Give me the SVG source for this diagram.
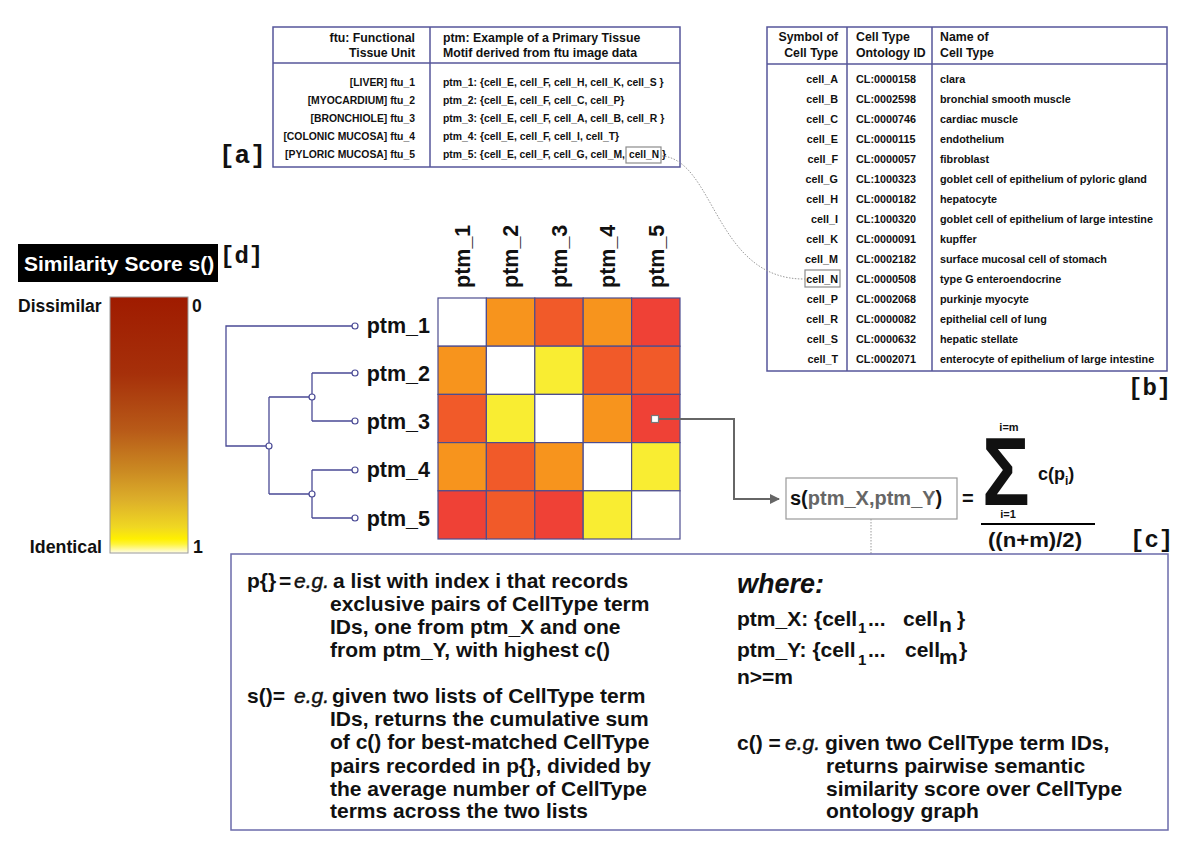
<svg xmlns="http://www.w3.org/2000/svg" width="1200" height="860" viewBox="0 0 1200 860">
<defs>
<style>
text{font-family:"Liberation Sans",Arial,sans-serif;font-weight:bold;fill:#111}
.hd{font-size:12.3px}
.ta{font-size:10.4px}
.tb{font-size:10.8px}
.lbl{font-family:"Liberation Mono","Courier New",monospace;font-size:24px;font-weight:bold}
.big{font-size:21.5px}
.body{font-size:21px}
.eg{font-style:italic;font-weight:normal;stroke:#111;stroke-width:0.45px}
.tbl{fill:#fff;stroke:#56569a;stroke-width:1.5}
.tl{stroke:#56569a;stroke-width:1.5}
.dn{fill:none;stroke:#4a4a95;stroke-width:1.3}
.nd{fill:#fff;stroke:#4a4a95;stroke-width:1.2}
.cell{stroke:#4d4d8f;stroke-width:1.2}
.O{fill:#f7941d}.R{fill:#f15a29}.D{fill:#ef4136}.Y{fill:#f9ed32}.W{fill:#fff}
.gbox{fill:none;stroke:#8c8c8c;stroke-width:1.2}
.gr{fill:#666}
</style>
<linearGradient id="grad" x1="0" y1="0" x2="0" y2="1">
<stop offset="0" stop-color="#9f1b00"/>
<stop offset="0.3" stop-color="#a6300a"/>
<stop offset="0.52" stop-color="#b85a18"/>
<stop offset="0.68" stop-color="#cb8a22"/>
<stop offset="0.79" stop-color="#dcae2a"/>
<stop offset="0.9" stop-color="#f0d822"/>
<stop offset="0.945" stop-color="#fff000"/>
<stop offset="0.965" stop-color="#fff43a"/>
<stop offset="1" stop-color="#fffde8"/>
</linearGradient>
<marker id="arr" viewBox="0 0 10 10" refX="9" refY="5" markerWidth="5" markerHeight="6" markerUnits="strokeWidth" orient="auto">
<path d="M0,0 L10,5 L0,10 z" fill="#666"/>
</marker>
</defs>
<rect width="1200" height="860" fill="#fff"/>

<g id="table-a">
<rect class="tbl" x="273" y="27" width="407" height="140"/>
<line class="tl" x1="273" y1="63" x2="680" y2="63"/>
<line class="tl" x1="430" y1="27" x2="430" y2="167"/>
<text class="hd" x="415" y="42" text-anchor="end">ftu: Functional</text>
<text class="hd" x="415" y="57" text-anchor="end">Tissue Unit</text>
<text class="hd" x="443" y="42">ptm: Example of a Primary Tissue</text>
<text class="hd" x="443" y="57">Motif derived from ftu image data</text>
<text class="ta" x="415" y="86" text-anchor="end">[LIVER] ftu_1</text>
<text class="ta" x="415" y="104" text-anchor="end">[MYOCARDIUM] ftu_2</text>
<text class="ta" x="415" y="122" text-anchor="end">[BRONCHIOLE] ftu_3</text>
<text class="ta" x="415" y="140" text-anchor="end">[COLONIC MUCOSA] ftu_4</text>
<text class="ta" x="415" y="158" text-anchor="end">[PYLORIC MUCOSA] ftu_5</text>
<text class="ta" x="443" y="86">ptm_1: {cell_E, cell_F, cell_H, cell_K, cell_S }</text>
<text class="ta" x="443" y="104">ptm_2: {cell_E, cell_F, cell_C, cell_P}</text>
<text class="ta" x="443" y="122">ptm_3: {cell_E, cell_F, cell_A, cell_B, cell_R }</text>
<text class="ta" x="443" y="140">ptm_4: {cell_E, cell_F, cell_I, cell_T}</text>
<text class="ta" x="443" y="158" textLength="182" lengthAdjust="spacingAndGlyphs">ptm_5: {cell_E, cell_F, cell_G, cell_M,</text>
<text class="ta" x="629" y="158" textLength="30" lengthAdjust="spacingAndGlyphs">cell_N</text>
<text class="ta" x="662" y="158">}</text>
<rect class="gbox" x="626" y="147" width="35" height="16"/>
<text class="lbl" x="219" y="163" style="font-size:26px">[a]</text>
</g>

<g id="table-b">
<rect class="tbl" x="767" y="27" width="400" height="344"/>
<line class="tl" x1="767" y1="64" x2="1167" y2="64"/>
<line class="tl" x1="847" y1="27" x2="847" y2="371"/>
<line class="tl" x1="932" y1="27" x2="932" y2="371"/>
<text class="hd" x="838" y="41" text-anchor="end">Symbol of</text>
<text class="hd" x="838" y="57" text-anchor="end">Cell Type</text>
<text class="hd" x="856" y="41">Cell Type</text>
<text class="hd" x="856" y="57">Ontology ID</text>
<text class="hd" x="940" y="41">Name of</text>
<text class="hd" x="940" y="57">Cell Type</text>
<text class="tb" x="838" y="83" text-anchor="end">cell_A</text><text class="tb" x="856" y="83">CL:0000158</text><text class="tb" x="940" y="83">clara</text>
<text class="tb" x="838" y="103" text-anchor="end">cell_B</text><text class="tb" x="856" y="103">CL:0002598</text><text class="tb" x="940" y="103">bronchial smooth muscle</text>
<text class="tb" x="838" y="123" text-anchor="end">cell_C</text><text class="tb" x="856" y="123">CL:0000746</text><text class="tb" x="940" y="123">cardiac muscle</text>
<text class="tb" x="838" y="143" text-anchor="end">cell_E</text><text class="tb" x="856" y="143">CL:0000115</text><text class="tb" x="940" y="143">endothelium</text>
<text class="tb" x="838" y="163" text-anchor="end">cell_F</text><text class="tb" x="856" y="163">CL:0000057</text><text class="tb" x="940" y="163">fibroblast</text>
<text class="tb" x="838" y="183" text-anchor="end">cell_G</text><text class="tb" x="856" y="183">CL:1000323</text><text class="tb" x="940" y="183">goblet cell of epithelium of pyloric gland</text>
<text class="tb" x="838" y="203" text-anchor="end">cell_H</text><text class="tb" x="856" y="203">CL:0000182</text><text class="tb" x="940" y="203">hepatocyte</text>
<text class="tb" x="838" y="223" text-anchor="end">cell_I</text><text class="tb" x="856" y="223">CL:1000320</text><text class="tb" x="940" y="223">goblet cell of epithelium of large intestine</text>
<text class="tb" x="838" y="243" text-anchor="end">cell_K</text><text class="tb" x="856" y="243">CL:0000091</text><text class="tb" x="940" y="243">kupffer</text>
<text class="tb" x="838" y="263" text-anchor="end">cell_M</text><text class="tb" x="856" y="263">CL:0002182</text><text class="tb" x="940" y="263">surface mucosal cell of stomach</text>
<text class="tb" x="838" y="283" text-anchor="end">cell_N</text><text class="tb" x="856" y="283">CL:0000508</text><text class="tb" x="940" y="283">type G enteroendocrine</text>
<text class="tb" x="838" y="303" text-anchor="end">cell_P</text><text class="tb" x="856" y="303">CL:0002068</text><text class="tb" x="940" y="303">purkinje myocyte</text>
<text class="tb" x="838" y="323" text-anchor="end">cell_R</text><text class="tb" x="856" y="323">CL:0000082</text><text class="tb" x="940" y="323">epithelial cell of lung</text>
<text class="tb" x="838" y="343" text-anchor="end">cell_S</text><text class="tb" x="856" y="343">CL:0000632</text><text class="tb" x="940" y="343">hepatic stellate</text>
<text class="tb" x="838" y="363" text-anchor="end">cell_T</text><text class="tb" x="856" y="363">CL:0002071</text><text class="tb" x="940" y="363">enterocyte of epithelium of large intestine</text>
<rect class="gbox" x="805" y="270" width="35" height="17"/>
<text class="lbl" x="1128" y="395">[b]</text>
</g>

<g id="legend">
<rect x="18" y="244" width="200" height="38" fill="#000"/>
<text x="24" y="271" style="font-size:21px;fill:#fff">Similarity Score s()</text>
<text class="lbl" x="220" y="263">[d]</text>
<rect x="110" y="297" width="78" height="256" fill="url(#grad)" stroke="#9a9a9a" stroke-width="1"/>
<text x="18" y="312" style="font-size:17.5px">Dissimilar</text>
<text x="192" y="312" style="font-size:17.5px">0</text>
<text x="102" y="553" text-anchor="end" style="font-size:17.8px">Identical</text>
<text x="193" y="553" style="font-size:17.8px">1</text>
</g>

<g id="dendrogram">
<path class="dn" d="M355,326 H226 V446 H269 M269,397 V494 M269,397 H312 M312,373 V421 M312,373 H355 M312,421 H355 M269,494 H312 M312,470 V518 M312,470 H355 M312,518 H355"/>
<circle class="nd" cx="269" cy="446" r="3"/>
<circle class="nd" cx="312" cy="397" r="3"/>
<circle class="nd" cx="312" cy="494" r="3"/>
<circle class="nd" cx="355" cy="326" r="3"/>
<circle class="nd" cx="355" cy="373" r="3"/>
<circle class="nd" cx="355" cy="421" r="3"/>
<circle class="nd" cx="355" cy="470" r="3"/>
<circle class="nd" cx="355" cy="518" r="3"/>
</g>

<g id="heatmap">
<text class="big" x="430" y="333" text-anchor="end">ptm_1</text>
<text class="big" x="430" y="381" text-anchor="end">ptm_2</text>
<text class="big" x="430" y="429" text-anchor="end">ptm_3</text>
<text class="big" x="430" y="477" text-anchor="end">ptm_4</text>
<text class="big" x="430" y="526" text-anchor="end">ptm_5</text>
<text class="big" transform="translate(470,288) rotate(-90)">ptm_1</text>
<text class="big" transform="translate(518.4,288) rotate(-90)">ptm_2</text>
<text class="big" transform="translate(566.8,288) rotate(-90)">ptm_3</text>
<text class="big" transform="translate(615.2,288) rotate(-90)">ptm_4</text>
<text class="big" transform="translate(663.6,288) rotate(-90)">ptm_5</text>
<rect class="cell W" x="438" y="298" width="48.4" height="48.2"/>
<rect class="cell O" x="486.4" y="298" width="48.4" height="48.2"/>
<rect class="cell R" x="534.8" y="298" width="48.4" height="48.2"/>
<rect class="cell O" x="583.2" y="298" width="48.4" height="48.2"/>
<rect class="cell D" x="631.6" y="298" width="48.4" height="48.2"/>
<rect class="cell O" x="438" y="346.2" width="48.4" height="48.2"/>
<rect class="cell W" x="486.4" y="346.2" width="48.4" height="48.2"/>
<rect class="cell Y" x="534.8" y="346.2" width="48.4" height="48.2"/>
<rect class="cell R" x="583.2" y="346.2" width="48.4" height="48.2"/>
<rect class="cell R" x="631.6" y="346.2" width="48.4" height="48.2"/>
<rect class="cell R" x="438" y="394.4" width="48.4" height="48.2"/>
<rect class="cell Y" x="486.4" y="394.4" width="48.4" height="48.2"/>
<rect class="cell W" x="534.8" y="394.4" width="48.4" height="48.2"/>
<rect class="cell O" x="583.2" y="394.4" width="48.4" height="48.2"/>
<rect class="cell D" x="631.6" y="394.4" width="48.4" height="48.2"/>
<rect class="cell O" x="438" y="442.6" width="48.4" height="48.2"/>
<rect class="cell R" x="486.4" y="442.6" width="48.4" height="48.2"/>
<rect class="cell O" x="534.8" y="442.6" width="48.4" height="48.2"/>
<rect class="cell W" x="583.2" y="442.6" width="48.4" height="48.2"/>
<rect class="cell Y" x="631.6" y="442.6" width="48.4" height="48.2"/>
<rect class="cell D" x="438" y="490.8" width="48.4" height="48.2"/>
<rect class="cell R" x="486.4" y="490.8" width="48.4" height="48.2"/>
<rect class="cell D" x="534.8" y="490.8" width="48.4" height="48.2"/>
<rect class="cell Y" x="583.2" y="490.8" width="48.4" height="48.2"/>
<rect class="cell W" x="631.6" y="490.8" width="48.4" height="48.2"/>
<rect x="651.5" y="415.5" width="7" height="7" fill="#fff" stroke="#777" stroke-width="1.2"/>
</g>

<g id="connectors">
<path d="M662,156 C715,160 715,280 805,279" fill="none" stroke="#9a9a9a" stroke-width="1" stroke-dasharray="1.5,1.5"/>
<path d="M659,419 H734 V499 H779" fill="none" stroke="#666" stroke-width="2" marker-end="url(#arr)"/>
<line x1="871" y1="519" x2="871" y2="554" stroke="#9a9a9a" stroke-width="1" stroke-dasharray="1.5,1.5"/>
</g>

<g id="formula">
<rect x="786" y="478" width="171" height="41" fill="#fff" stroke="#999" stroke-width="1.2"/>
<text x="790" y="505" style="font-size:20px">s(<tspan class="gr">ptm_X,ptm_Y</tspan>)</text>
<text x="962" y="505" style="font-size:20px">=</text>
<text transform="translate(982,505) scale(0.82,1)" style="font-size:97px">Σ</text>
<text x="1009" y="431" text-anchor="middle" style="font-size:11px">i=m</text>
<text x="1008" y="518" text-anchor="middle" style="font-size:11px">i=1</text>
<text x="1038" y="480" style="font-size:18px">c(p<tspan dy="5" style="font-size:12px">i</tspan><tspan dy="-5">)</tspan></text>
<rect x="981" y="523" width="114" height="2" fill="#000"/>
<text x="988" y="547" style="font-size:20px" textLength="94" lengthAdjust="spacingAndGlyphs">((n+m)/2)</text>
<text class="lbl" x="1130" y="547">[c]</text>
</g>

<g id="definitions">
<rect x="231" y="554" width="937" height="276" fill="none" stroke="#6b6bab" stroke-width="1.5"/>
<text class="body" x="247" y="588">p{}</text>
<text class="body" x="279" y="588">=</text>
<text class="body eg" x="294" y="588">e.g.</text>
<text class="body" x="333" y="588">a list with index i that records</text>
<text class="body" x="330" y="611">exclusive pairs of CellType term</text>
<text class="body" x="330" y="634">IDs, one from ptm_X and one</text>
<text class="body" x="330" y="657">from ptm_Y, with highest c()</text>
<text class="body" x="247" y="703">s()=</text>
<text class="body eg" x="294" y="703">e.g.</text>
<text class="body" x="332" y="703">given two lists of CellType term</text>
<text class="body" x="330" y="726">IDs, returns the cumulative sum</text>
<text class="body" x="330" y="749">of c() for best-matched CellType</text>
<text class="body" x="330" y="773">pairs recorded in p{}, divided by</text>
<text class="body" x="330" y="796">the average number of CellType</text>
<text class="body" x="330" y="818">terms across the two lists</text>

<text x="737" y="593" style="font-size:27px;font-style:italic">where:</text>
<text class="body" x="737" y="626">ptm_X: {cell</text>
<text x="858" y="633" style="font-size:15px">1</text>
<text class="body" x="868" y="626">...</text>
<text class="body" x="903" y="626">cell</text>
<text class="body" x="939" y="632">n</text>
<text class="body" x="957" y="626">}</text>
<text class="body" x="737" y="657">ptm_Y: {cell</text>
<text x="858" y="665" style="font-size:15px">1</text>
<text class="body" x="868" y="657">...</text>
<text class="body" x="905" y="657">cell</text>
<text class="body" x="939" y="664">m</text>
<text class="body" x="959" y="657">}</text>
<text class="body" x="737" y="684">n&gt;=m</text>
<text class="body" x="737" y="750">c() =</text>
<text class="body eg" x="785" y="750">e.g.</text>
<text class="body" x="825" y="750">given two CellType term IDs,</text>
<text class="body" x="826" y="773">returns pairwise semantic</text>
<text class="body" x="826" y="796">similarity score over CellType</text>
<text class="body" x="826" y="818">ontology graph</text>
</g>
</svg>
